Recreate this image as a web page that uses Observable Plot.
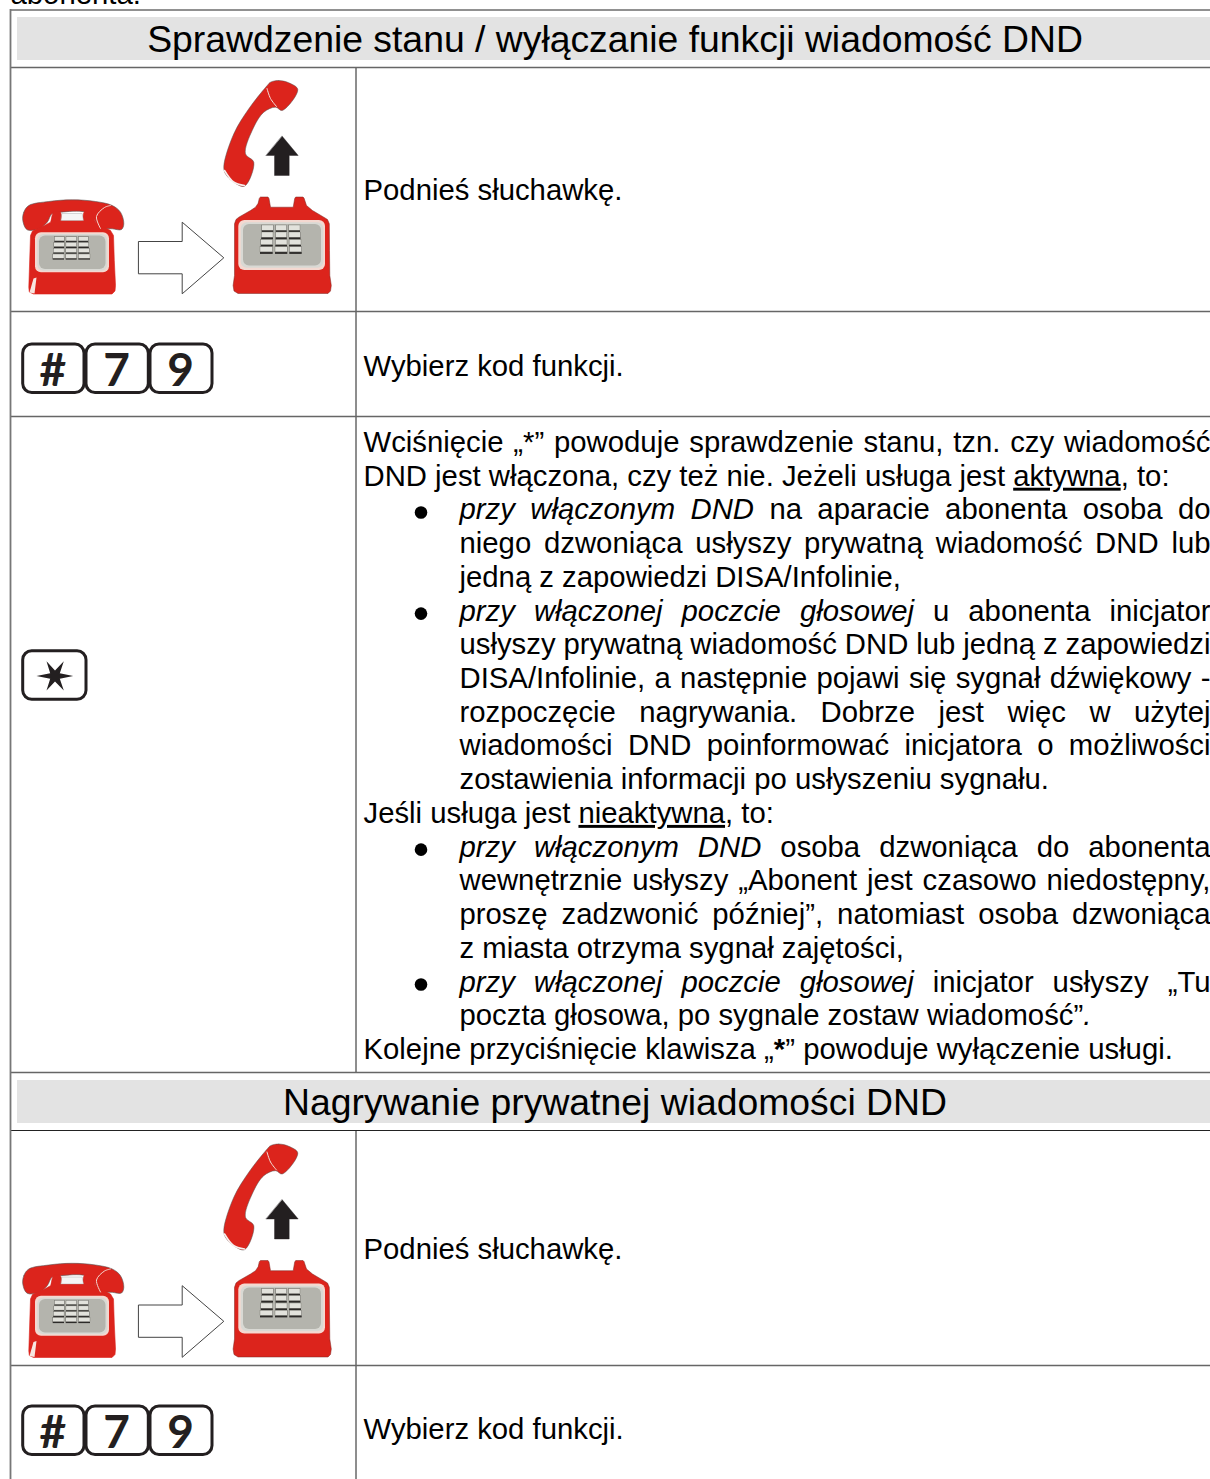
<!DOCTYPE html>
<html lang="pl"><head><meta charset="utf-8">
<script src="https://cdn.jsdelivr.net/npm/d3@7"></script>
<script src="https://cdn.jsdelivr.net/npm/@observablehq/plot@0.6"></script>
<style>html,body{margin:0;padding:0;background:#fff;overflow:hidden}svg{display:block}</style>
</head><body><div id="c"></div>
<script>
// ---- text ----
const headers = ["Sprawdzenie stanu / wyłączanie funkcji wiadomość DND", "Nagrywanie prywatnej wiadomości DND"];
const headerBaselines = [51, 1114];
const stepTexts = ["Podnieś słuchawkę.", "Wybierz kod funkcji.", "Podnieś słuchawkę.", "Wybierz kod funkcji."];
const stepBaselines = [199, 375, 1258, 1438];
const bodyLines = [
  "Wciśnięcie „*” powoduje sprawdzenie stanu, tzn. czy wiadomość",
  "DND jest włączona, czy też nie. Jeżeli usługa jest <u>aktywna</u>, to:",
  "<i>przy włączonym DND</i> na aparacie abonenta osoba do",
  "niego dzwoniąca usłyszy prywatną wiadomość DND lub",
  "jedną z zapowiedzi DISA/Infolinie,",
  "<i>przy włączonej poczcie głosowej</i> u abonenta inicjator",
  "usłyszy prywatną wiadomość DND lub jedną z zapowiedzi",
  "DISA/Infolinie, a następnie pojawi się sygnał dźwiękowy -",
  "rozpoczęcie nagrywania. Dobrze jest więc w użytej",
  "wiadomości DND poinformować inicjatora o możliwości",
  "zostawienia informacji po usłyszeniu sygnału.",
  "Jeśli usługa jest <u>nieaktywna</u>, to:",
  "<i>przy włączonym DND</i> osoba dzwoniąca do abonenta",
  "wewnętrznie usłyszy „Abonent jest czasowo niedostępny,",
  "proszę zadzwonić później”, natomiast osoba dzwoniąca",
  "z miasta otrzyma sygnał zajętości,",
  "<i>przy włączonej poczcie głosowej</i> inicjator usłyszy „Tu",
  "poczta głosowa, po sygnale zostaw wiadomość”<i>.</i>",
  "Kolejne przyciśnięcie klawisza „<b>*</b>” powoduje wyłączenie usługi."
];
const indented = [2,3,4,5,6,7,8,9,10,12,13,14,15,16,17];
const justified = [0,2,3,5,6,7,8,9,12,13,14,16];
const bulleted = [2,5,12,16];
const keyLabels = ["#","7","9"];

// ---- table geometry ----
const greyRows = [67, 311, 416, 1072, 1365];
const darkRows = [9.5, 1130];
const headerBands = [[17,60],[1080,1123]];
const columnRuns = [[67,1072],[1130,1479]];
const phoneShift = [0, 1063.5];
const keyShift = [0, 1062];

// ---- telephone artwork ----
const handsetUp = [[270,81.7],[278.3,80],[288.3,82.3],[297.3,89],[281.7,110],[275,106.7],[263.3,111.7],[251.7,130],[245,153.3],[253.3,161.7],[244,185.7],[233.3,181.7],[225,173.3],[223.3,165.7],[233.3,133.3],[248.3,108.3],[266.7,85]];
const earLine = [[266.5,88],[270,98],[276,106]];
const mouthLine = [[224,170],[233,181.5],[244,185]];
const upArrow = [[281.7,135.7],[297.7,155],[288.7,155],[288.7,175],[274,175],[274,155],[265.7,155]];
const bigArrow = [[138.3,241],[181.7,241],[181.7,221.7],[223.3,257.3],[181.7,293.3],[181.7,273.3],[138.3,273.3]];
const frontBody = [[259,197.5],[260,196.5],[267.5,196.5],[268.5,198],[270,206.7],[292.7,206.7],[294.2,198],[295.2,196.5],[302.5,196.5],[303.5,197.5],[306,205],[312,210],[323.3,216.7],[327,219],[328.8,223.3],[329,250],[329.3,275],[330.8,285],[330,290.5],[327.5,293],[237.5,293],[233.5,290.5],[232.6,285],[234,275],[234,223.3],[235.5,219],[238.3,216.7],[250,210],[255,206.7],[257.5,203]];
const backHandset = [[22.3,220],[23.3,211.7],[28.3,205],[48.3,201],[71.7,199.3],[95,201],[111.7,205],[120,211.7],[123.3,223.3],[121,229],[111.7,228.3],[98,226.7],[93.3,218.3],[85,211.7],[60,211.7],[51.7,213],[46.7,221.7],[38.3,228.3],[26.7,229.3]];
const backBody = [[52.3,212],[53.5,211],[59.5,211],[60.5,213],[61.7,220],[81.7,220],[83,213],[84,211],[90.5,211],[91.5,213],[95,221.7],[100,225],[106.7,228.3],[110,230],[113,235],[113.8,260],[115,285],[114.5,290.5],[111.5,293.5],[33,293.5],[28.8,291.5],[28.3,287],[30,235],[32,230.5],[36.7,228.3],[44,225],[50,221.7]];
const backNotch = [[61.7,213],[81.7,213],[83,220],[60.5,220]];
const backGleam = [[33,278],[36,277],[34,293],[29,292]];
const backEar = [[100,228],[96,216],[104,207],[110,205]];
const panels = [
  {x1:35, x2:109, y1:232.3, y2:272.3, fill:"#f4d8d0"},
  {x1:37.3, x2:107.3, y1:234, y2:270.7, fill:"#d9d9d4"},
  {x1:39, x2:105.5, y1:235.5, y2:269, fill:"#b4b4ad"},
  {x1:238.3, x2:325, y1:220, y2:270, fill:"#f4d8d0"},
  {x1:240.7, x2:323.3, y1:222.3, y2:267.7, fill:"#d9d9d4"},
  {x1:243, x2:321, y1:224, y2:265.5, fill:"#b4b4ad"}
];
const frontKeyRows = [225, 232, 239.5, 246.7];
const frontKeyCols = [[[261.7,273.3],[275.7,286.7],[288.7,300]],[[261.2,273],[275.5,286.8],[288.9,300.5]],[[260.7,272.8],[275.3,287],[289.1,301]],[[260,272.7],[275,287.3],[289.3,301.7]]];
const backKeyRows = [236.7, 242.4, 248.2, 254];
const backKeyCols = [[[54.3,64.3],[66,76.7],[78.3,88.3]],[[53.8,64.2],[65.9,76.7],[78.3,88.8]],[[53.2,64.1],[65.8,76.7],[78.3,89.4]],[[52.7,64],[65.7,76.7],[78.3,90]]];

// ---- key caps ----
const keyCaps = [[22.7,84],[86,148.3],[150,212]];
const keyTop = 344, keyBottom = 392.5;
const starBox = {x1:22.7, x2:86, y1:650.7, y2:699.3};
const star = [[72.7,675.5],[59.3,678.3],[63.3,690],[54.5,681],[46,690],[49.7,678.3],[36,675.5],[49.7,672.7],[46,660.7],[54.5,670],[63.3,660.7],[59.3,672.7]];

// ---- layout constants ----
const FONT = "Liberation Sans", BODY = 29.3, HEAD = 37.35;
const firstBaseline = 451.5, pitch = 33.72, rightEdge = 1210;

const strip = s => s.replace(/<\/?[iub]>/g, "");
const lineRows = bodyLines.map((s,i)=>({raw:s, text:strip(s), x: indented.includes(i)?459:363, y:firstBaseline+pitch*i, just:justified.includes(i)}));
const bullets = bulleted.map(i=>({x:420.5, y:firstBaseline+pitch*i-7}));

const place = (pts, shifts) => shifts.flatMap(dy => pts.map(([x,y]) => ({x, y:y+dy, z:dy})));
const shape = (pts, o, shifts=phoneShift) => Plot.line(place(pts,shifts), {x:"x", y:"y", z:"z", strokeLinejoin:"round", ...o});
const keyRects = (rows, cols, dy) => rows.flatMap((y,r)=>cols[r].map(([x1,x2])=>({x1,x2,y1:y+dy,y2:y+dy})));
const allKeys = phoneShift.flatMap(dy=>[...keyRects(frontKeyRows,frontKeyCols,dy).map(k=>({...k,h:5.2,s:2})), ...keyRects(backKeyRows,backKeyCols,dy).map(k=>({...k,h:4.2,s:1.4}))]);

const marks = [
  Plot.rect(headerBands.map(([y1,y2])=>({x1:17,x2:1210,y1,y2})), {x1:"x1",x2:"x2",y1:"y1",y2:"y2",fill:"#e3e3e3"}),
  Plot.ruleX(columnRuns.map(([y1,y2])=>({x:355.5,y1,y2})), {x:"x",y1:"y1",y2:"y2",stroke:"#1c1c1c",strokeWidth:1}),
  Plot.ruleY(greyRows, {y:d=>d, x1:10, x2:1210, stroke:"#666",strokeWidth:1.4}),
  Plot.ruleY(darkRows, {y:d=>d, x1:10, x2:1210, stroke:"#222",strokeWidth:1}),
  Plot.ruleX([10], {x:d=>d, y1:9, y2:1479, stroke:"#777",strokeWidth:1.8}),
  shape(backHandset,{fill:"#dc241c",stroke:"#555",strokeWidth:.6,curve:"catmull-rom-closed"}),
  shape(backBody,{fill:"#dc241c",stroke:"#dc241c",strokeWidth:.6,curve:"linear-closed"}),
  shape(backNotch,{fill:"#f5f5f5",stroke:"#999",strokeWidth:.4,curve:"linear-closed"}),
  shape(backGleam,{fill:"#f7e6e0",curve:"linear-closed"}),
  shape(backEar,{stroke:"#f4d8d0",strokeWidth:1,curve:"catmull-rom"}),
  shape(frontBody,{fill:"#dc241c",stroke:"#7a2420",strokeWidth:.5,curve:"linear-closed"}),
  shape(handsetUp,{fill:"#dc241c",stroke:"#555",strokeWidth:.5,curve:"catmull-rom-closed"}),
  shape(earLine,{stroke:"#f4e2dc",strokeWidth:1,curve:"catmull-rom"}),
  shape(mouthLine,{stroke:"#f7f0ee",strokeWidth:1.6,curve:"catmull-rom"}),
  shape(upArrow,{fill:"#231f20",stroke:"#231f20",strokeWidth:.4,curve:"linear-closed"}),
  shape(bigArrow,{fill:"#fff",stroke:"#444",strokeWidth:1,curve:"linear-closed"}),
  Plot.rect(phoneShift.flatMap(dy=>panels.map(p=>({...p,y1:p.y1+dy,y2:p.y2+dy}))),{x1:"x1",x2:"x2",y1:"y1",y2:"y2",fill:d=>d.fill,rx:6,ry:6}),
  Plot.rect(allKeys,{x1:"x1",x2:"x2",y1:"y1",y2:d=>d.y1+d.h+d.s,fill:"#2c2a28"}),
  Plot.rect(allKeys,{x1:"x1",x2:"x2",y1:"y1",y2:d=>d.y1+d.h,fill:"#e2e2dc",stroke:"#77776f",strokeWidth:.4}),
  Plot.rect(keyShift.flatMap(dy=>keyCaps.map(([x1,x2])=>({x1,x2,y1:keyTop+dy,y2:keyBottom+dy}))),{x1:"x1",x2:"x2",y1:"y1",y2:"y2",fill:"#fff",stroke:"#231f20",strokeWidth:3,rx:9,ry:9}),
  Plot.text(keyShift.flatMap(dy=>keyLabels.map((t,i)=>({t,x:(keyCaps[i][0]+keyCaps[i][1])/2-1,y:385+dy}))),{x:"x",y:"y",text:"t",lineAnchor:"bottom",fontFamily:"Lato",fontWeight:700,fontSize:46,fill:"#231f20"}),
  Plot.rect([starBox],{x1:"x1",x2:"x2",y1:"y1",y2:"y2",fill:"#fff",stroke:"#231f20",strokeWidth:3,rx:9,ry:9}),
  shape(star,{fill:"#231f20",curve:"linear-closed"},[0]),
  Plot.text(["abonenta."],{x:10,y:3,text:d=>d,textAnchor:"start",lineAnchor:"bottom",fontFamily:FONT,fontSize:BODY,fill:"#000"}),
  Plot.text(headers.map((t,i)=>({t,y:headerBaselines[i]})),{x:614.5,y:"y",text:"t",textAnchor:"middle",lineAnchor:"bottom",fontFamily:FONT,fontSize:HEAD,fill:"#000"}),
  Plot.text(stepTexts.map((t,i)=>({t,y:stepBaselines[i]})),{x:363,y:"y",text:"t",textAnchor:"start",lineAnchor:"bottom",fontFamily:FONT,fontSize:BODY,fill:"#000"}),
  Plot.dot(bullets,{x:"x",y:"y",r:6.3,fill:"#000"}),
  Plot.text(lineRows,{x:"x",y:"y",text:"text",textAnchor:"start",lineAnchor:"bottom",fontFamily:FONT,fontSize:BODY,fill:"#000",className:"body-line"})
];

const chart = Plot.plot({
  width:1210, height:1479, margin:0,
  x:{domain:[0,1210],range:[0,1210],axis:null},
  y:{domain:[0,1479],range:[0,1479],axis:null},
  style:{background:"#fff",overflow:"hidden"},
  marks
});
document.getElementById("c").appendChild(chart);

const els = chart.querySelectorAll(".body-line text");
els.forEach((el,i)=>{
  const row = lineRows[i];
  el.textContent = "";
  row.raw.split(/(<[iub]>.*?<\/[iub]>)/).filter(Boolean).forEach(part=>{
    const m = part.match(/^<([iub])>(.*)<\/\1>$/);
    const ts = document.createElementNS("http://www.w3.org/2000/svg","tspan");
    ts.textContent = m ? m[2] : part;
    if (m && m[1]==="i") ts.setAttribute("font-style","italic");
    if (m && m[1]==="b") ts.setAttribute("font-weight","bold");
    if (m && m[1]==="u") ts.setAttribute("text-decoration","underline");
    el.appendChild(ts);
  });
  if (row.just) {
    const spaces = row.text.split(" ").length-1;
    const len = el.getComputedTextLength();
    el.setAttribute("word-spacing", ((rightEdge-row.x-len)/spaces).toFixed(3));
  }
});
</script></body></html>
